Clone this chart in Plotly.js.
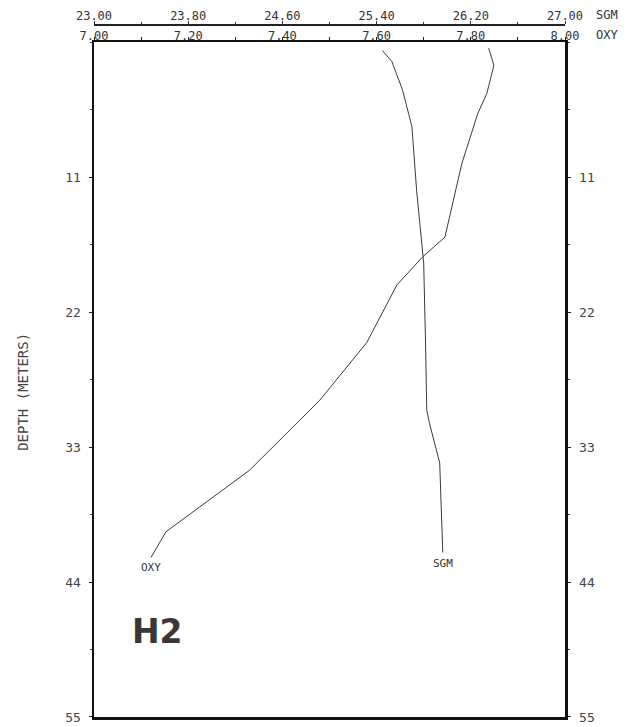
<!DOCTYPE html>
<html>
<head>
<meta charset="utf-8">
<script src="https://cdn.plot.ly/plotly-3.0.1.min.js"></script>
<style>html,body{margin:0;padding:0;background:#fff;}#chart{width:640px;height:727px;}</style>
</head>
<body>
<div id="chart"></div>
<script>
// Oxygen profile (OXY) — depth in metres
const oxyValues = [7.838, 7.849, 7.834, 7.815, 7.781, 7.745, 7.698, 7.643, 7.579, 7.479, 7.330, 7.187, 7.153, 7.121];
const oxyDepth  = [0.5, 1.9, 4.2, 5.8, 9.9, 15.9, 17.5, 19.8, 24.5, 29.2, 34.9, 39.0, 39.9, 42.0];
// Sigma-t profile (SGM)
const sgmValues = [25.45, 25.53, 25.62, 25.70, 25.74, 25.78, 25.80, 25.817, 25.826, 25.85, 25.936, 25.962];
const sgmDepth  = [0.7, 1.6, 3.9, 6.9, 12.1, 16.4, 18.0, 25.1, 30.0, 31.1, 34.3, 41.6];
// Axis ticks
const oxyTicks = [7.0, 7.2, 7.4, 7.6, 7.8, 8.0];
const oxyTickText = ["7.00", "7.20", "7.40", "7.60", "7.80", "8.00"];
const sgmTicks = [23.0, 23.8, 24.6, 25.4, 26.2, 27.0];
const sgmTickText = ["23.00", "23.80", "24.60", "25.40", "26.20", "27.00"];
const depthTicks = [11, 22, 33, 44, 55];
const depthTickText = ["11", "22", "33", "44", "55"];

const FONT = "DejaVu Sans Mono";
const TXT = "#333";

const traces = [
  {x: oxyValues, y: oxyDepth, xaxis: "x", yaxis: "y", mode: "lines", name: "OXY",
   line: {color: "#3a3a3a", width: 1}, hoverinfo: "skip"},
  {x: sgmValues, y: sgmDepth, xaxis: "x2", yaxis: "y2", mode: "lines", name: "SGM",
   line: {color: "#3a3a3a", width: 1}, hoverinfo: "skip"}
];

const depthAxis = {
  range: [55, 0], autorange: false,
  tickvals: depthTicks, ticktext: depthTickText,
  ticks: "outside", ticklen: 3, tickcolor: "#222",
  minor: {dtick: 5.5, tick0: 0, ticks: "outside", ticklen: 2, tickcolor: "#333"},
  showline: true, linewidth: 2.5, linecolor: "#111",
  showgrid: false, zeroline: false, tickfont: {family: FONT, size: 13, color: "#444"}
};

const layout = {
  width: 640, height: 727,
  margin: {l: 94, r: 75, t: 24, b: 10},
  paper_bgcolor: "#fff", plot_bgcolor: "#fff",
  showlegend: false,
  font: {family: FONT, color: TXT, size: 12},
  xaxis: {
    range: [7, 8], side: "top", anchor: "y",
    tickvals: oxyTicks, ticktext: oxyTickText,
    ticks: "outside", ticklen: 3, tickcolor: "#222", ticklabelstandoff: -8,
    minor: {dtick: 0.1, tick0: 7, ticks: "outside", ticklen: 3, tickcolor: "#222"},
    showline: true, linewidth: 2.5, linecolor: "#111", mirror: true,
    showgrid: false, zeroline: false, tickfont: {family: FONT, size: 12, color: TXT}
  },
  xaxis2: {
    range: [23, 27], side: "top", overlaying: "x", anchor: "free", position: 1,
    tickvals: sgmTicks, ticktext: sgmTickText,
    ticks: "outside", ticklen: 3, tickcolor: "#333", ticklabelstandoff: -4,
    minor: {dtick: 0.4, tick0: 23, ticks: "outside", ticklen: 2, tickcolor: "#333"},
    showline: true, linewidth: 1.5, linecolor: "#222",
    showgrid: false, zeroline: false, tickfont: {family: FONT, size: 12, color: TXT}
  },
  yaxis: Object.assign({}, depthAxis, {domain: [0, 0.974], anchor: "x", side: "left", ticklabelstandoff: 5}),
  yaxis2: Object.assign({}, depthAxis, {overlaying: "y", anchor: "x", side: "right", ticklabelstandoff: 6}),
  annotations: [
    {text: "SGM", xref: "paper", yref: "paper", x: 1.089, y: 1.013, xanchor: "center", yanchor: "middle",
     showarrow: false, font: {family: FONT, size: 12, color: TXT}},
    {text: "OXY", xref: "paper", yref: "paper", x: 1.089, y: 0.984, xanchor: "center", yanchor: "middle",
     showarrow: false, font: {family: FONT, size: 12, color: TXT}},
    {text: "OXY", xref: "x", yref: "y", x: oxyValues[oxyValues.length - 1], y: oxyDepth[oxyDepth.length - 1],
     xanchor: "center", yanchor: "middle", yshift: -10, showarrow: false,
     font: {family: FONT, size: 11, color: TXT}},
    {text: "SGM", xref: "x2", yref: "y2", x: sgmValues[sgmValues.length - 1], y: sgmDepth[sgmDepth.length - 1],
     xanchor: "center", yanchor: "middle", yshift: -11, showarrow: false,
     font: {family: FONT, size: 11, color: TXT}},
    {text: "<b>H2</b>", xref: "paper", yref: "paper", x: 0.134, y: 0.123, xanchor: "center", yanchor: "middle",
     showarrow: false, font: {family: "DejaVu Sans", size: 33, color: "#383838"}},
    {text: "DEPTH (METERS)", xref: "paper", yref: "paper", x: -0.151, y: 0.469, textangle: -90,
     xanchor: "center", yanchor: "middle", showarrow: false,
     font: {family: FONT, size: 14, color: "#444"}}
  ]
};

Plotly.newPlot("chart", traces, layout, {displayModeBar: false, staticPlot: true});
</script>
</body>
</html>
